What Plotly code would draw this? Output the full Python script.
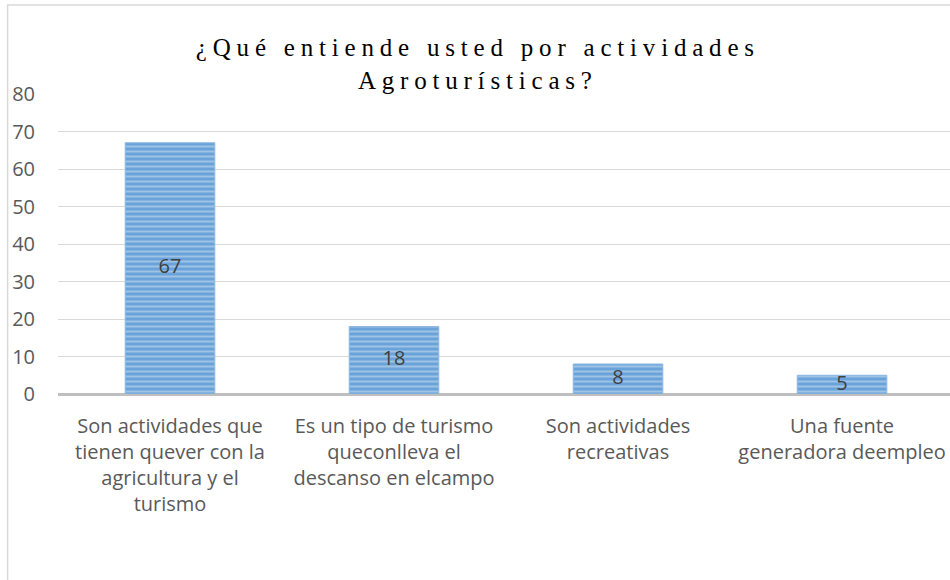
import plotly.graph_objects as go

title_text = "¿Qué entiende usted por actividades<br>Agroturísticas?"
categories = [
    "Son actividades que<br>tienen quever con la<br>agricultura y el<br>turismo",
    "Es un tipo de turismo<br>queconlleva el<br>descanso en elcampo",
    "Son actividades<br>recreativas",
    "Una fuente<br>generadora deempleo",
]
values = [67, 18, 8, 5]
y_ticks = [0, 10, 20, 30, 40, 50, 60, 70, 80]

x_idx = list(range(len(categories)))

fig = go.Figure()
fig.add_trace(go.Bar(
    x=x_idx, y=values, width=0.40,
    marker=dict(
        color="#6FA7DA",
        line=dict(color="#8DB8E2", width=1),
        pattern=dict(shape="-", fgcolor="#D2E3F5", bgcolor="#6AA3D9", size=5, solidity=0.4),
    ),
    hoverinfo="skip", showlegend=False,
))
fig.add_trace(go.Scatter(
    x=x_idx, y=[v / 2 for v in values], mode="text",
    text=[str(v) for v in values],
    textfont=dict(family="Open Sans, Noto Sans, sans-serif", size=20, color="#404040"),
    hoverinfo="skip", showlegend=False,
))

fig.update_layout(
    width=950, height=580,
    margin=dict(l=58, r=0, t=94, b=186),
    paper_bgcolor="white", plot_bgcolor="white",
    title=dict(
        text=title_text, x=0.503, xanchor="center", y=0.903, yanchor="middle",
        font=dict(family="Liberation Serif, Times New Roman, serif", size=25, color="#000000"),
    ),
    xaxis=dict(
        tickvals=x_idx, ticktext=categories, range=[-0.5, 3.482],
        showgrid=False, zeroline=False, showline=False, ticks="",
        tickfont=dict(family="Open Sans, Noto Sans, sans-serif", size=20, color="#595959"),
        ticklabelstandoff=18, fixedrange=True,
    ),
    yaxis=dict(
        range=[0, 80], tickvals=y_ticks, showgrid=True, gridcolor="#D9D9D9", gridwidth=1,
        zeroline=True, zerolinecolor="#BFBFBF", zerolinewidth=3, showline=False, ticks="",
        tickfont=dict(family="Open Sans, Noto Sans, sans-serif", size=20, color="#595959"),
        ticklabelstandoff=22, fixedrange=True,
    ),
    shapes=[dict(type="rect", xref="paper", yref="paper", x0=-0.0565, x1=1.2, y0=-1.0, y1=1.297,
                 line=dict(color="#D9D9D9", width=1.5), fillcolor="rgba(0,0,0,0)", layer="below")],
)

post = """
document.body.style.margin='0';
document.querySelectorAll('.gtitle').forEach(function(e){e.setAttribute('letter-spacing','5.8px');});
"""
fig.write_html("out.html", post_script=post, config={"displayModeBar": False})
